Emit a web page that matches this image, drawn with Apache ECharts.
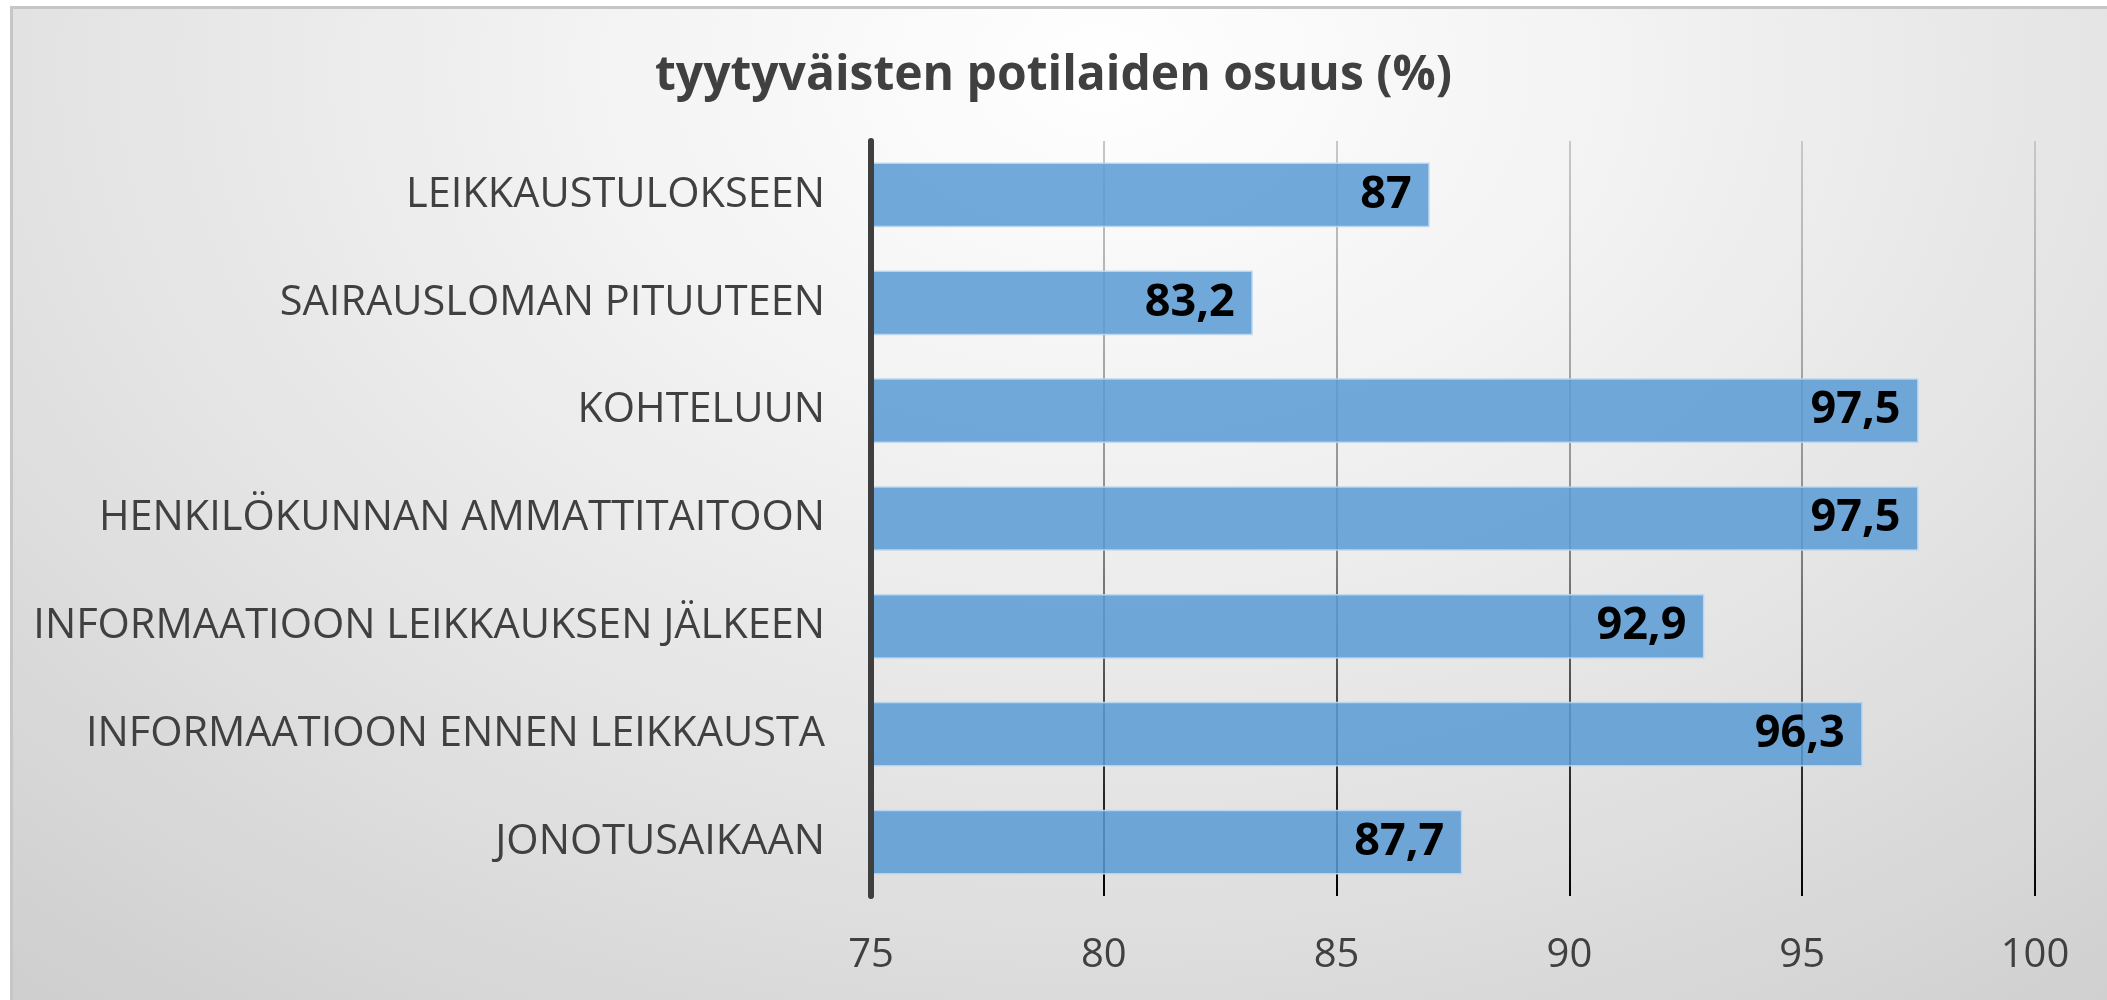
<!DOCTYPE html>
<html>
<head>
<meta charset="utf-8">
<script src="https://cdn.jsdelivr.net/npm/echarts@6/dist/echarts.min.js"></script>
<style>
  html, body { margin: 0; padding: 0; background: #ffffff; overflow: hidden; }
  #frame {
    position: absolute;
    left: 10px;
    top: 6px;
    width: 2097px;
    height: 994px;
    box-sizing: border-box;
    border-left: 3px solid #c6c6c6;
    border-top: 3px solid #c6c6c6;
    background: radial-gradient(ellipse 80% 120% at 52% 6%, #ffffff 0%, #f3f3f3 30%, #e2e2e2 65%, #cfcfcf 100%);
  }
  #chart { position: absolute; left: 0; top: 0; width: 2107px; height: 1000px; }
</style>
</head>
<body>
<div id="frame"></div>
<div id="chart"></div>
<script>
var categories = [
  'LEIKKAUSTULOKSEEN',
  'SAIRAUSLOMAN PITUUTEEN',
  'KOHTELUUN',
  'HENKILÖKUNNAN AMMATTITAITOON',
  'INFORMAATIOON LEIKKAUKSEN JÄLKEEN',
  'INFORMAATIOON ENNEN LEIKKAUSTA',
  'JONOTUSAIKAAN'
]
var shares = [87, 83.2, 97.5, 97.5, 92.9, 96.3, 87.7]
var axisMin = 75
var axisMax = 100
var axisStep = 5
var titleText = 'tyytyväisten potilaiden osuus (%)'

var font = 'Open Sans'
var chart = echarts.init(document.getElementById('chart'))

chart.setOption({
  animation: false,
  title: {
    text: titleText,
    left: 'center',
    top: 47,
    textStyle: { fontFamily: font, fontSize: 48, fontWeight: 'bold', color: '#404040' }
  },
  grid: { left: 871, right: 72, top: 141, bottom: 104, containLabel: false },
  xAxis: {
    type: 'value',
    min: axisMin,
    max: axisMax,
    interval: axisStep,
    axisLine: { show: false },
    axisTick: { show: false },
    axisLabel: { color: '#404040', fontFamily: font, fontSize: 40, margin: 40 },
    splitLine: {
      show: true,
      lineStyle: {
        width: 2,
        color: {
          type: 'linear', x: 0, y: 0, x2: 0, y2: 1,
          colorStops: [
            { offset: 0, color: '#c8c8c8' },
            { offset: 0.5, color: '#8e8e8e' },
            { offset: 1, color: '#000000' }
          ]
        }
      }
    }
  },
  yAxis: {
    type: 'category',
    data: categories,
    inverse: true,
    z: 10,
    axisLine: { show: true, lineStyle: { color: '#3f3f3f', width: 6 } },
    axisTick: { show: false },
    axisLabel: { color: '#404040', fontFamily: font, fontSize: 41.5, margin: 46 }
  },
  series: [
    {
      type: 'bar',
      data: shares,
      barCategoryGap: '40%',
      itemStyle: {
        color: 'rgba(91,155,213,0.86)',
        borderColor: 'rgba(190,215,240,0.9)',
        borderWidth: 1.5
      },
      label: {
        show: true,
        position: 'insideRight',
        distance: 18,
        color: '#000000',
        fontFamily: font,
        fontSize: 45,
        fontWeight: 'bold',
        formatter: function(p) { return String(p.value).replace('.', ',') }
      }
    }
  ]
})
</script>
</body>
</html>
